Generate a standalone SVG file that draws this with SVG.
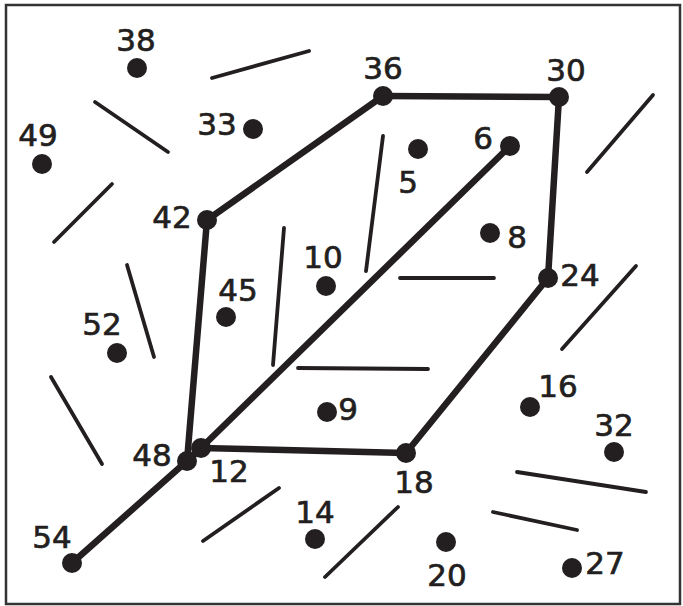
<svg xmlns="http://www.w3.org/2000/svg" width="683" height="606" viewBox="0 0 683 606">
<style>
.bg{fill:#fff}
.frame{fill:none;stroke:#333;stroke-width:2.5}
.thick{stroke:#231f20;stroke-width:6.5;stroke-linecap:round;fill:none}
.thin{stroke:#231f20;stroke-width:3.8;stroke-linecap:round;fill:none}
.dot{fill:#231f20}
.lbl{font-family:"DejaVu Sans",sans-serif;font-size:31px;fill:#231f20;stroke:#231f20;stroke-width:0.7;text-anchor:middle}
</style>
<rect class="bg" x="0" y="0" width="683" height="606"/>
<rect class="frame" x="6" y="5" width="674" height="599"/>
<g id="connectors">
<line class="thick" x1="207" y1="220" x2="383" y2="96"/>
<line class="thick" x1="383" y1="96" x2="559" y2="97"/>
<line class="thick" x1="559" y1="97" x2="548" y2="278"/>
<line class="thick" x1="548" y1="278" x2="406" y2="453"/>
<line class="thick" x1="406" y1="453" x2="201" y2="448"/>
<line class="thick" x1="201" y1="448" x2="510" y2="146"/>
<line class="thick" x1="207" y1="220" x2="187" y2="461"/>
<line class="thick" x1="72" y1="563" x2="187" y2="461"/>
<line class="thick" x1="187" y1="461" x2="201" y2="448"/>
</g>
<g id="strokes">
<line class="thin" x1="212" y1="78" x2="309" y2="51"/>
<line class="thin" x1="95" y1="102" x2="168" y2="152"/>
<line class="thin" x1="112" y1="184" x2="54" y2="242"/>
<line class="thin" x1="127" y1="265" x2="154" y2="357"/>
<line class="thin" x1="284" y1="228" x2="273" y2="365"/>
<line class="thin" x1="383" y1="136" x2="366" y2="271"/>
<line class="thin" x1="400" y1="278" x2="494" y2="278"/>
<line class="thin" x1="653" y1="95" x2="587" y2="172"/>
<line class="thin" x1="636" y1="266" x2="562" y2="349"/>
<line class="thin" x1="51" y1="377" x2="102" y2="464"/>
<line class="thin" x1="298" y1="368" x2="428" y2="369"/>
<line class="thin" x1="279" y1="488" x2="203" y2="541"/>
<line class="thin" x1="398" y1="507" x2="325" y2="577"/>
<line class="thin" x1="517" y1="472" x2="646" y2="492"/>
<line class="thin" x1="493" y1="512" x2="577" y2="530"/>
</g>
<g id="n38"><circle class="dot" cx="137" cy="68" r="10"/><text class="lbl" x="136" y="51">38</text></g>
<g id="n49"><circle class="dot" cx="42" cy="164" r="10"/><text class="lbl" x="38" y="146">49</text></g>
<g id="n33"><circle class="dot" cx="253" cy="129" r="10"/><text class="lbl" x="217" y="135">33</text></g>
<g id="n36"><circle class="dot" cx="383" cy="96" r="10"/><text class="lbl" x="383" y="79">36</text></g>
<g id="n30"><circle class="dot" cx="559" cy="97" r="10"/><text class="lbl" x="566" y="81">30</text></g>
<g id="n6"><circle class="dot" cx="510" cy="146" r="10"/><text class="lbl" x="483" y="149">6</text></g>
<g id="n5"><circle class="dot" cx="418" cy="149" r="10"/><text class="lbl" x="408" y="193">5</text></g>
<g id="n42"><circle class="dot" cx="207" cy="220" r="10"/><text class="lbl" x="172" y="228">42</text></g>
<g id="n8"><circle class="dot" cx="490" cy="233" r="10"/><text class="lbl" x="517" y="248">8</text></g>
<g id="n24"><circle class="dot" cx="548" cy="278" r="10"/><text class="lbl" x="580" y="286">24</text></g>
<g id="n10"><circle class="dot" cx="326" cy="286" r="10"/><text class="lbl" x="323" y="268">10</text></g>
<g id="n45"><circle class="dot" cx="226" cy="317" r="10"/><text class="lbl" x="238" y="301">45</text></g>
<g id="n52"><circle class="dot" cx="117" cy="353" r="10"/><text class="lbl" x="102" y="335">52</text></g>
<g id="n9"><circle class="dot" cx="327" cy="412" r="10"/><text class="lbl" x="348" y="420">9</text></g>
<g id="n16"><circle class="dot" cx="530" cy="407" r="10"/><text class="lbl" x="558" y="397">16</text></g>
<g id="n32"><circle class="dot" cx="614" cy="452" r="10"/><text class="lbl" x="614" y="436">32</text></g>
<g id="n48"><circle class="dot" cx="187" cy="461" r="10"/><text class="lbl" x="152" y="466">48</text></g>
<g id="n12"><circle class="dot" cx="201" cy="448" r="10"/><text class="lbl" x="229" y="482">12</text></g>
<g id="n18"><circle class="dot" cx="406" cy="453" r="10"/><text class="lbl" x="414" y="493">18</text></g>
<g id="n14"><circle class="dot" cx="315" cy="539" r="10"/><text class="lbl" x="315" y="523">14</text></g>
<g id="n20"><circle class="dot" cx="446" cy="542" r="10"/><text class="lbl" x="447" y="586">20</text></g>
<g id="n27"><circle class="dot" cx="572" cy="568" r="10"/><text class="lbl" x="605" y="574">27</text></g>
<g id="n54"><circle class="dot" cx="72" cy="563" r="10"/><text class="lbl" x="52" y="548">54</text></g>
</svg>
